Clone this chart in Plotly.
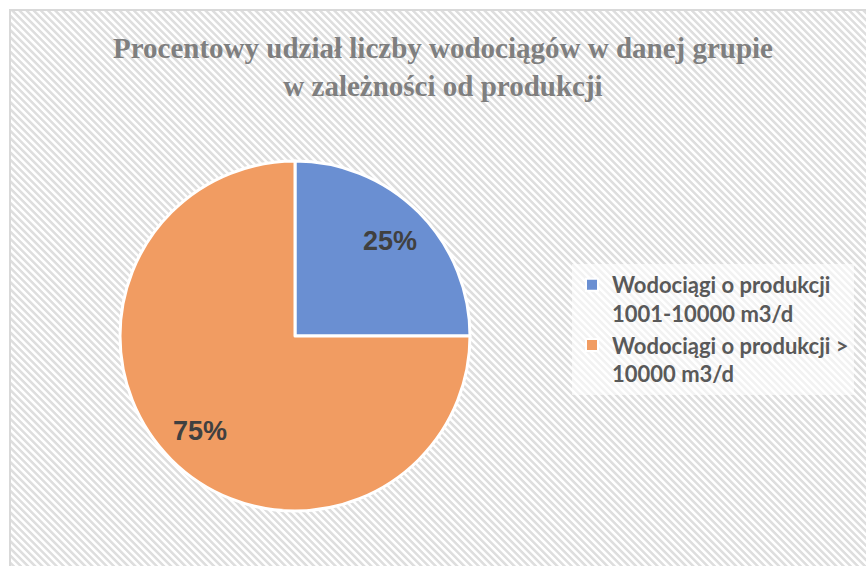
import base64
import math
import plotly.graph_objects as go

labels = ["Wodociągi o produkcji<br>1001-10000 m3/d", "Wodociągi o produkcji ><br>10000 m3/d"]
values = [25, 75]
colors = ["#6a8fd2", "#f19c62"]
title_text = "Procentowy udział liczby wodociągów w danej grupie<br>w zależności od produkcji"

W, H = 866, 566
CX, CY, R = 295, 336, 175  # pie centre and radius in pixels

svg = (
    "<svg xmlns='http://www.w3.org/2000/svg' width='856' height='556'>"
    "<defs><pattern id='p' width='5' height='5' patternUnits='userSpaceOnUse' patternTransform='rotate(-45)'>"
    "<rect width='5' height='5' fill='#ffffff'/><rect width='2.5' height='5' fill='#dedede'/></pattern></defs>"
    "<rect width='100%' height='100%' fill='url(#p)'/></svg>"
)
src = "data:image/svg+xml;base64," + base64.b64encode(svg.encode()).decode()

fig = go.Figure(go.Pie(
    labels=labels,
    values=values,
    sort=False,
    direction="clockwise",
    rotation=0,
    marker=dict(colors=colors, line=dict(color="white", width=3)),
    textinfo="none",
    domain=dict(x=[(CX - R) / W, (CX + R) / W], y=[1 - (CY + R) / H, 1 - (CY - R) / H]),
    hoverinfo="label+percent",
))

# percentage labels placed along each slice's bisector
total = sum(values)
annotations = []
cum = 0
for v in values:
    mid = (cum + v / 2) / total * 2 * math.pi
    cum += v
    rr = 0.77 * R
    px = CX + rr * math.sin(mid)
    py = CY - rr * math.cos(mid)
    annotations.append(dict(
        x=px / W, y=1 - py / H,
        xref="paper", yref="paper", showarrow=False,
        xanchor="center", yanchor="middle",
        text=f"{v / total * 100:.0f}%",
        font=dict(family="Liberation Sans, Arial", size=27, color="#404040", weight="bold"),
    ))

fig.update_layout(
    width=W, height=H,
    margin=dict(l=0, r=0, t=0, b=0),
    paper_bgcolor="white",
    plot_bgcolor="white",
    title=dict(
        text=title_text,
        x=443 / W, xanchor="center",
        y=1 - 58 / H, yanchor="top",
        font=dict(family="Liberation Serif, Times New Roman, serif", size=29, color="#7f7f7f", weight="bold"),
    ),
    legend=dict(
        x=572 / W, xanchor="left",
        y=1 - 264 / H, yanchor="top",
        valign="top",
        bgcolor="rgba(255,255,255,0.6)",
        font=dict(family="Lato, Carlito, sans-serif", size=22, color="#595959", weight="bold"),
        tracegroupgap=14,
        itemsizing="constant",
    ),
    annotations=annotations,
    images=[dict(
        source=src, xref="paper", yref="paper",
        x=10 / W, y=1 - 10 / H, sizex=1, sizey=1,
        xanchor="left", yanchor="top", sizing="stretch", layer="below",
    )],
    shapes=[dict(
        type="rect", xref="paper", yref="paper",
        x0=10 / W, x1=1.05, y0=-0.05, y1=1 - 10 / H,
        line=dict(color="#d9d9d9", width=2), fillcolor="rgba(0,0,0,0)", layer="above",
    )],
)

fig.write_html("out.html", config={"displayModeBar": False},
               post_script="document.body.style.margin='0';")
